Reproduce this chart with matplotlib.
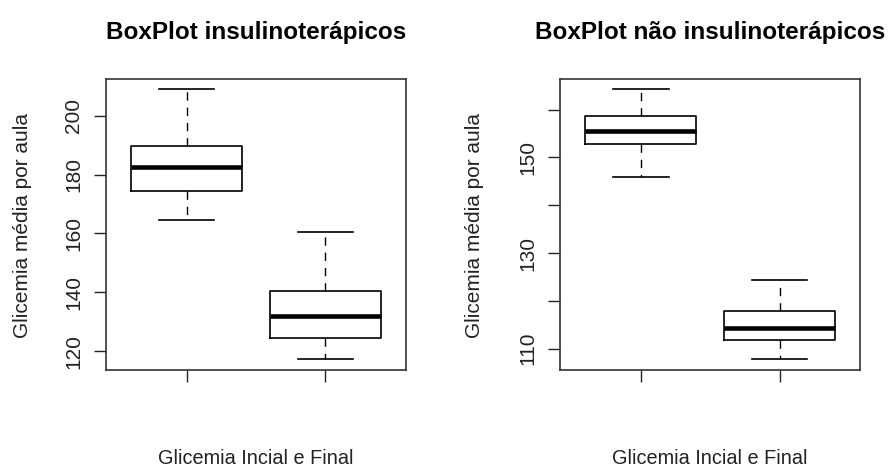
import matplotlib
matplotlib.use("Agg")
import matplotlib.pyplot as plt

plt.rcParams['font.family'] = ['Liberation Sans', 'DejaVu Sans']

# estatisticas: [whislo, q1, med, q3, whishi]
insulina_inicial = [164.6, 174.3, 182.7, 189.8, 208.9]
insulina_final = [117.3, 124.4, 131.9, 140.3, 160.6]
nao_insulina_inicial = [145.9, 152.7, 155.5, 158.7, 164.2]
nao_insulina_final = [107.8, 111.9, 114.3, 117.9, 124.4]

titulos = ["BoxPlot insulinoterápicos", "BoxPlot não insulinoterápicos"]
ticks_esq = [120, 140, 160, 180, 200]
ticks_dir = [110, 120, 130, 140, 150, 160]
labels_dir = ["110", "", "130", "", "150", ""]

W, H = 891, 467


def stats(v):
    return {'whislo': v[0], 'q1': v[1], 'med': v[2], 'q3': v[3], 'whishi': v[4], 'fliers': []}


fig = plt.figure(figsize=(W / 100, H / 100), dpi=100)
ax1 = fig.add_axes([106 / W, 1 - 370 / H, 300 / W, 291.3 / H])
ax2 = fig.add_axes([560.3 / W, 1 - 370 / H, 299.7 / W, 291.3 / H])

grupos = [(ax1, insulina_inicial, insulina_final, ticks_esq, [str(t) for t in ticks_esq], 256, 23),
          (ax2, nao_insulina_inicial, nao_insulina_final, ticks_dir, labels_dir, 710, 475)]

for i, (ax, a, b, ticks, labels, cx, ylx) in enumerate(grupos):
    ax.bxp([stats(a), stats(b)], positions=[1, 2], widths=0.8, showfliers=False,
           boxprops=dict(color='black', linewidth=1.2),
           medianprops=dict(color='black', linewidth=3.3, solid_capstyle='butt'),
           whiskerprops=dict(color='black', linewidth=1.0, linestyle=(0, (6, 5))),
           capprops=dict(color='black', linewidth=1.2),
           capwidths=0.4)
    # limites como no R: 4% de folga
    lo = min(a[0], b[0])
    hi = max(a[4], b[4])
    r = hi - lo
    ax.set_ylim(lo - 0.04 * r, hi + 0.04 * r)
    ax.set_xlim(0.42, 2.58)
    ax.set_xticks([1, 2])
    ax.set_xticklabels([])
    ax.set_yticks(ticks)
    ax.set_yticklabels(labels, rotation=90, va='center', fontsize=15, color='#222222')
    ax.tick_params(direction='out', length=8.6, width=1.0, pad=8, color='#222222')
    for s in ax.spines.values():
        s.set_linewidth(1.2)
        s.set_color('#333333')
    fig.text(cx / W, 1 - 33 / H, titulos[i], fontsize=17.5, fontweight='bold',
             ha='center', va='center')
    fig.text(ylx / W, 1 - 226 / H, "Glicemia média por aula", fontsize=15, rotation=90,
             ha='center', va='center', color='#222222')
    fig.text(cx / W, 1 - 458 / H, "Glicemia Incial e Final", fontsize=14.3,
             ha='center', va='center', color='#222222')

fig.savefig("out.png", dpi=100)
